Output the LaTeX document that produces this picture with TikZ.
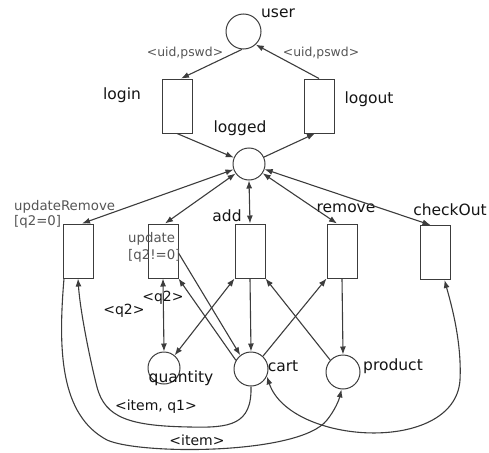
\documentclass[tikz,border=0pt]{standalone}
\usepackage{fontspec}
\setmainfont{DejaVu Sans}
\usetikzlibrary{arrows.meta}
\definecolor{ln}{RGB}{60,60,60}
\definecolor{tx}{RGB}{20,20,20}
\definecolor{lt}{RGB}{85,85,85}
\begin{document}
\begin{tikzpicture}[x=1pt,y=-1pt,
 place/.style={circle,draw=ln,line width=1pt,inner sep=0pt},
 trans/.style={rectangle,draw=ln,line width=1pt,minimum width=30pt,minimum height=54pt,inner sep=0pt},
 lbl/.style={text=tx,font=\fontsize{15.5}{16}\selectfont,inner sep=0pt},
 ins/.style={text=tx,font=\fontsize{14}{15}\selectfont,inner sep=0pt},
 sml/.style={text=lt,font=\fontsize{13.3}{14}\selectfont,inner sep=0pt},
 uid/.style={text=lt,font=\fontsize{12.4}{13}\selectfont,inner sep=0pt},
 arc/.style={ln,line width=1.1pt,-{Latex[length=8pt,width=6pt]}},
 darc/.style={ln,line width=1.1pt,{Latex[length=8pt,width=6pt]}-{Latex[length=8pt,width=6pt]}}]
\useasboundingbox (0,0) rectangle (489,452);
% places
\node[place,minimum size=35pt] (user) at (243.5,31.5) {};
\node[place,minimum size=32pt] (logged) at (249,164) {};
\node[place,minimum size=32pt] (quantity) at (164,368) {};
\node[place,minimum size=34pt] (cart) at (251,369) {};
\node[place,minimum size=34pt] (product) at (343,372) {};
% transitions
\node[trans] (login) at (177,106) {};
\node[trans] (logout) at (319,106) {};
\node[trans] (updRem) at (78,251) {};
\node[trans] (update) at (163,251) {};
\node[trans] (add) at (250,251) {};
\node[trans] (remove) at (342,251) {};
\node[trans] (checkOut) at (435.5,252.5) {};
% labels
\node[lbl] (luser) at (278,13) {user};
\node[uid] (luid1) at (185,53) {<uid,pswd>};
\node[uid] (luid2) at (321,53) {<uid,pswd>};
\node[lbl] (llogin) at (122,95) {login};
\node[lbl] (llogout) at (369,99) {logout};
\node[lbl] (llogged) at (240,128) {logged};
\node[sml,anchor=west] (lupdrem) at (14,207) {updateRemove};
\node[sml,anchor=west] (lq20) at (14,222) {[q2=0]};
\node[sml,anchor=west] (lupdate) at (128,239) {update};
\node[sml,anchor=west] (lq2n) at (128,256) {[q2!=0]};
\node[lbl] (ladd) at (227,216) {add};
\node[lbl] (lremove) at (346,208) {remove};
\node[lbl] (lcheck) at (450,210) {checkOut};
\node[ins] (lq2a) at (163,298) {<q2>};
\node[ins] (lq2b) at (124,311) {<q2>};
\node[lbl] (lquantity) at (181,378) {quantity};
\node[lbl] (lcart) at (283,366) {cart};
\node[lbl] (lproduct) at (393,366) {product};
\node[ins] (litemq) at (156,407) {<item, q1>};
\node[ins] (litem) at (197,440) {<item>};
% arcs
\draw[arc] (user.-95) -- ([xshift=4pt]login.north);
\draw[arc] (logout.north) -- (user.-47);
\draw[arc] (login.south) -- (logged);
\draw[arc] (logged) -- ([xshift=-4pt]logout.south);
\draw[darc] (logged) -- ([xshift=4pt]updRem.north);
\draw[darc] (logged) -- ([xshift=2pt]update.north);
\draw[darc] (logged.south) -- (add.north);
\draw[darc] (logged) -- ([xshift=-5pt]remove.north);
\draw[darc] (logged) -- ([xshift=-5pt]checkOut.north);
\draw[darc] (update.south) -- (quantity.north);
\draw[arc] ([yshift=-2pt]update.east) -- (cart.128);
\draw[arc] (cart.150) -- (update.south east);
\draw[darc] (add.south west) -- (quantity.50);
\draw[arc] (add.south) -- (cart.north);
\draw[arc] (cart.47) -- (remove.south west);
\draw[arc] (product.137) -- (add.south east);
\draw[arc] (remove.south) -- (product.north);
\draw[darc] (cart.-25) .. controls (290,445) and (455,455) .. (460,380)
  .. controls (462,340) and (450,300) .. ([xshift=9pt]checkOut.south);
\draw[arc] ([xshift=-14pt]updRem.south) .. controls (58,350) and (60,415) .. (107,440)
  .. controls (140,455) and (300,455) .. (327,420)
  .. controls (335,410) and (339,400) .. (product.-95);
\draw[arc] (cart.south) .. controls (252,425) and (230,428) .. (190,427)
  .. controls (130,426) and (105,418) .. (97,387)
  .. controls (90,360) and (80,310) .. (updRem.south);
\end{tikzpicture}
\end{document}
